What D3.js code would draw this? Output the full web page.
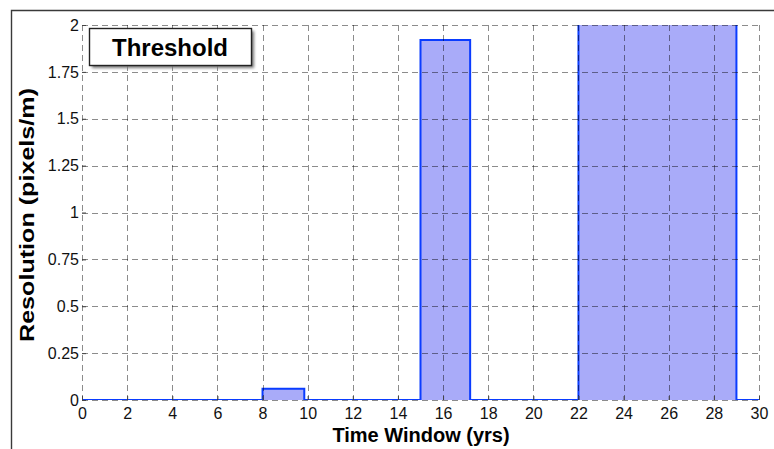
<!DOCTYPE html>
<html>
<head>
<meta charset="utf-8">
<script src="https://cdn.jsdelivr.net/npm/d3@7"></script>
<style>
  html, body { margin: 0; padding: 0; background: #fff; }
  svg { display: block; font-family: "Liberation Sans", Arial, Helvetica, sans-serif; }
</style>
</head>
<body>
<svg id="chart" width="774" height="449"></svg>
<script>
// Threshold resolution per time window
const segStart = [0, 8, 9.85, 15, 17.2, 22, 29];
const segEnd   = [8, 9.85, 15, 17.2, 22, 29, 30];
const segValue = [0, 0.06, 0, 1.92, 0, 2.6, 0];

const xTicks = d3.range(0, 31, 2);
const yTicks = [0, 0.25, 0.5, 0.75, 1, 1.25, 1.5, 1.75, 2];
const yTickLabels = ["0", "0.25", "0.5", "0.75", "1", "1.25", "1.5", "1.75", "2"];

const legendLabel = "Threshold";
const xTitle = "Time Window (yrs)";
const yTitle = "Resolution (pixels/m)";

const svg = d3.select("#chart");
const W = 774, H = 449;
const margin = { left: 82, right: 15, top: 25, bottom: 49 };
const x = d3.scaleLinear().domain([0, 30]).range([margin.left, W - margin.right]);
const y = d3.scaleLinear().domain([0, 2]).range([H - margin.bottom, margin.top]);

// outer frame
svg.append("path")
  .attr("d", `M11.5,${H} L11.5,10.5 L${W},10.5`)
  .attr("fill", "none").attr("stroke", "#3a3a3a").attr("stroke-width", 1.4);

const defs = svg.append("defs");
defs.append("clipPath").attr("id", "plotClip")
  .append("rect")
  .attr("x", x(0)).attr("y", y(2))
  .attr("width", x(30) - x(0)).attr("height", y(0) - y(2));
const shadow = defs.append("filter").attr("id", "shadow")
  .attr("x", "-10%").attr("y", "-20%").attr("width", "130%").attr("height", "160%");
shadow.append("feGaussianBlur").attr("stdDeviation", 1.6);

// step area for the threshold series
const pts = [];
segStart.forEach((s, i) => {
  pts.push([s, segValue[i]]);
  pts.push([segEnd[i], segValue[i]]);
});
const plot = svg.append("g").attr("clip-path", "url(#plotClip)");
plot.append("path")
  .datum(pts)
  .attr("d", d3.area().x(d => x(d[0])).y0(y(0)).y1(d => y(d[1])))
  .attr("fill", "#a9abf9");
plot.append("path")
  .datum(pts)
  .attr("d", d3.line().x(d => x(d[0])).y(d => y(d[1])))
  .attr("fill", "none")
  .attr("stroke", "#0a3cff")
  .attr("stroke-width", 2);

// dashed grid over the series
const grid = svg.append("g")
  .attr("stroke", "#000").attr("stroke-opacity", 0.45)
  .attr("stroke-width", 1).attr("stroke-dasharray", "6,4");
grid.selectAll("line.v").data(xTicks).join("line")
  .attr("x1", d => Math.round(x(d)) + 0.5).attr("x2", d => Math.round(x(d)) + 0.5)
  .attr("y1", y(2)).attr("y2", y(0));
grid.selectAll("line.h").data(yTicks).join("line")
  .attr("y1", d => Math.round(y(d)) + 0.5).attr("y2", d => Math.round(y(d)) + 0.5)
  .attr("x1", x(0)).attr("x2", x(30));

// axes
const yAxis = d3.axisLeft(y).tickValues(yTicks)
  .tickFormat((d, i) => yTickLabels[i]).tickSize(-4).tickPadding(3);
const gy = svg.append("g").attr("transform", `translate(${x(0)},0)`).call(yAxis);
gy.select(".domain").remove();
gy.selectAll(".tick line").attr("stroke", "#444");
gy.selectAll(".tick text")
  .style("font-size", "16px").style("font-family", "'Liberation Sans', Arial, sans-serif")
  .attr("fill", "#111");

const xAxis = d3.axisBottom(x).tickValues(xTicks).tickSize(-4).tickPadding(8);
const gx = svg.append("g").attr("transform", `translate(0,${y(0)})`).call(xAxis);
gx.select(".domain").remove();
gx.selectAll(".tick line").attr("stroke", "#444");
gx.selectAll(".tick text")
  .style("font-size", "16px").style("font-family", "'Liberation Sans', Arial, sans-serif")
  .attr("fill", "#111");

// axis titles
svg.append("text")
  .attr("x", 421).attr("y", 442)
  .attr("text-anchor", "middle").attr("font-weight", "bold").style("font-size", "20px")
  .text(xTitle);
svg.append("text")
  .attr("transform", `translate(34,215) rotate(-90)`)
  .attr("text-anchor", "middle").attr("font-weight", "bold").style("font-size", "20px")
  .attr("textLength", 254).attr("lengthAdjust", "spacingAndGlyphs")
  .text(yTitle);

// legend box
const lg = svg.append("g");
lg.append("rect").attr("x", 92).attr("y", 31).attr("width", 162).attr("height", 37)
  .attr("fill", "#777").attr("filter", "url(#shadow)");
lg.append("rect").attr("x", 89.5).attr("y", 28.5).attr("width", 162).attr("height", 37)
  .attr("fill", "#fff").attr("stroke", "#222").attr("stroke-width", 1.4);
lg.append("text").attr("x", 170).attr("y", 56)
  .attr("text-anchor", "middle").attr("font-weight", "bold").style("font-size", "24px")
  .text(legendLabel);
</script>
</body>
</html>
